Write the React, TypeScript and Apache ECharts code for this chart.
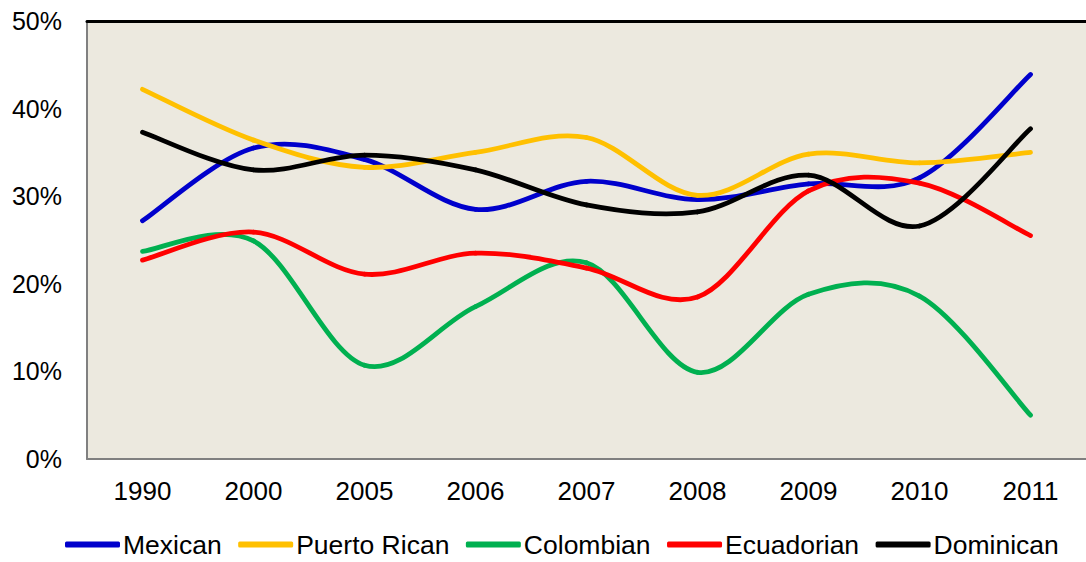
import React, { useEffect, useRef } from "react";
import * as echarts from "echarts";

const years = ["1990", "2000", "2005", "2006", "2007", "2008", "2009", "2010", "2011"];
const mexican = [27.2, 35.5, 34.2, 28.5, 31.7, 29.6, 31.4, 32.1, 43.9];
const puertoRican = [42.2, 36.4, 33.3, 35.0, 36.7, 30.1, 34.8, 33.8, 35.0];
const colombian = [23.7, 24.9, 10.7, 17.4, 22.4, 9.9, 18.8, 18.6, 5.0];
const ecuadorian = [22.7, 25.9, 21.1, 23.5, 21.8, 18.5, 30.6, 31.5, 25.5];
const dominican = [37.3, 33.0, 34.7, 33.0, 29.0, 28.2, 32.4, 26.6, 37.7];
const seriesNames = ["Mexican", "Puerto Rican", "Colombian", "Ecuadorian", "Dominican"];
const seriesColors = ["#0000CC", "#FFC000", "#00B050", "#FF0000", "#000000"];
const seriesData = [mexican, puertoRican, colombian, ecuadorian, dominican];
const yTicks = [0, 10, 20, 30, 40, 50];

const FONT = "'Liberation Sans', Arial, sans-serif";

export default function App() {
  const ref = useRef<HTMLDivElement>(null);
  useEffect(() => {
    if (!ref.current) return;
    const chart = echarts.init(ref.current, null, { renderer: "svg" });

    const makeRender = (values: number[], color: string) => (params: any, api: any) => {
      const i = params.dataIndex;
      const n = values.length;
      if (i >= n - 1) return { type: "group", children: [] };
      const pt = (k: number) => {
        const kk = Math.max(0, Math.min(n - 1, k));
        return api.coord([kk, values[kk]]);
      };
      const p0 = pt(i - 1);
      const p1 = pt(i);
      const p2 = pt(i + 1);
      const p3 = pt(i + 2);
      const t = 1 / 6;
      return {
        type: "bezierCurve",
        shape: {
          x1: p1[0],
          y1: p1[1],
          cpx1: p1[0] + (p2[0] - p0[0]) * t,
          cpy1: p1[1] + (p2[1] - p0[1]) * t,
          cpx2: p2[0] - (p3[0] - p1[0]) * t,
          cpy2: p2[1] - (p3[1] - p1[1]) * t,
          x2: p2[0],
          y2: p2[1],
        },
        style: {
          stroke: color,
          fill: null,
          lineWidth: 4.8,
          lineCap: "round",
          lineJoin: "round",
        },
        silent: true,
      };
    };

    chart.setOption({
      animation: false,
      backgroundColor: "#ffffff",
      grid: {
        left: 87,
        top: 21,
        right: 0,
        bottom: 103,
        show: true,
        backgroundColor: "#ECE9DF",
        borderWidth: 0,
      },
      xAxis: [
        {
          type: "category",
          data: years,
          boundaryGap: true,
          axisLine: { show: true, lineStyle: { color: "#808080", width: 2 } },
          axisTick: { show: false },
          axisLabel: {
            color: "#000",
            fontSize: 26,
            fontFamily: FONT,
            margin: 19,
          },
          splitLine: { show: false },
        },
        {
          type: "category",
          data: years,
          position: "top",
          axisLine: { show: true, lineStyle: { color: "#000000", width: 3 } },
          axisTick: { show: false },
          axisLabel: { show: false },
          splitLine: { show: false },
        },
      ],
      yAxis: {
        type: "value",
        min: yTicks[0],
        max: yTicks[yTicks.length - 1],
        interval: 10,
        axisLine: { show: true, lineStyle: { color: "#808080", width: 2 } },
        axisTick: { show: false },
        splitLine: { show: false },
        axisLabel: {
          color: "#000",
          fontSize: 25,
          fontFamily: FONT,
          margin: 25,
          formatter: (v: number) => `${v}%`,
        },
      },
      legend: {
        left: 60,
        top: 526,
        itemWidth: 55,
        itemHeight: 6,
        itemGap: 16.5,
        icon: "roundRect",
        textStyle: {
          color: "#000",
          fontSize: 26.5,
          fontFamily: FONT,
          padding: [0, 0, 0, -2],
        },
        data: seriesNames.map((name, i) => ({
          name,
          itemStyle: { color: seriesColors[i] },
        })),
      },
      series: seriesNames.map((name, i) => ({
        name,
        type: "custom",
        xAxisIndex: 0,
        yAxisIndex: 0,
        data: seriesData[i].map((v, k) => [k, v]),
        encode: { x: 0, y: 1 },
        itemStyle: { color: seriesColors[i] },
        renderItem: makeRender(seriesData[i], seriesColors[i]),
      })),
    });
    return () => chart.dispose();
  }, []);
  return (
    <div
      ref={ref}
      style={{ position: "fixed", left: 0, top: 0, width: 1086, height: 562 }}
    />
  );
}
